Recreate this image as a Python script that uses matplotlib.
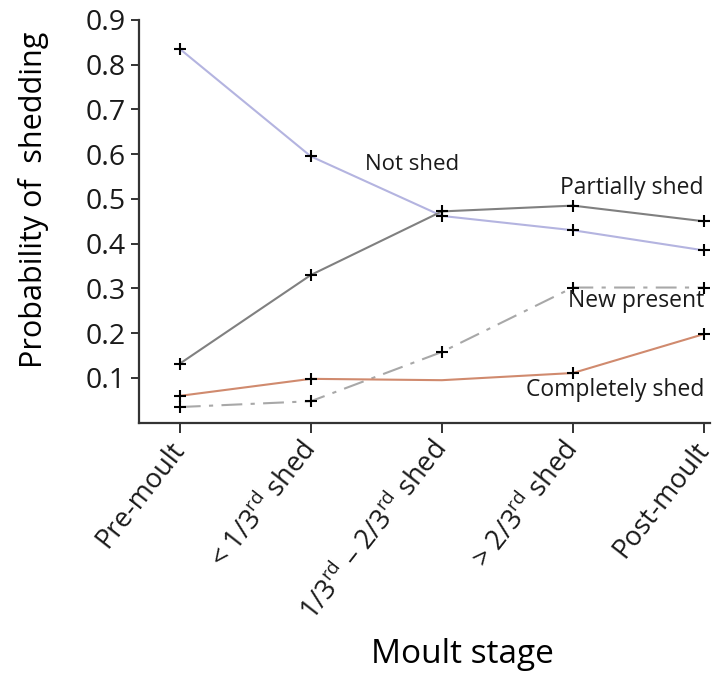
import matplotlib
matplotlib.use("Agg")
import matplotlib.pyplot as plt

plt.rcParams['font.family'] = ['Open Sans', 'DejaVu Sans']
plt.rcParams['mathtext.fontset'] = 'custom'
plt.rcParams['mathtext.rm'] = 'Open Sans'
plt.rcParams['text.color'] = '#1a1a1a'

stages = ['Pre-moult',
          r'< 1/3$^{\mathrm{rd}}$ shed',
          r'1/3$^{\mathrm{rd}}$ – 2/3$^{\mathrm{rd}}$ shed',
          r'> 2/3$^{\mathrm{rd}}$ shed',
          'Post-moult']
not_shed = [0.835, 0.595, 0.462, 0.43, 0.385]
partially_shed = [0.132, 0.33, 0.472, 0.485, 0.45]
new_present = [0.035, 0.048, 0.158, 0.302, 0.302]
completely_shed = [0.06, 0.098, 0.095, 0.111, 0.198]

x = list(range(len(stages)))

fig = plt.figure(figsize=(7.14, 6.84), dpi=100)
ax = fig.add_axes([0.195, 0.382, 0.80, 0.589])

mk = dict(marker='+', ms=9, mew=1.5, mec='black')
ax.plot(x, not_shed, color='#b4b4e0', lw=1.5, **mk)
ax.plot(x, partially_shed, color='#808080', lw=1.5, **mk)
ax.plot(x, new_present, color='#a8a8a8', lw=1.5, ls=(0, (10, 4, 2, 4)), **mk)
ax.plot(x, completely_shed, color='#d08a6e', lw=1.5, markevery=[0, 1, 3, 4], **mk)

# series names sit next to the lines
ax.text(1.775, 0.577, 'Not shed', fontsize=16, ha='center', va='center')
ax.text(4.0, 0.525, 'Partially shed', fontsize=16.5, ha='right', va='center')
ax.text(4.0, 0.271, 'New present', fontsize=16.5, ha='right', va='center')
ax.text(4.0, 0.074, 'Completely shed', fontsize=16.5, ha='right', va='center')

ax.set_xlim(-0.31, 4.05)
ax.set_ylim(0, 0.9)
ax.set_yticks([0.1, 0.2, 0.3, 0.4, 0.5, 0.6, 0.7, 0.8, 0.9])
ax.set_yticklabels(['0.1', '0.2', '0.3', '0.4', '0.5', '0.6', '0.7', '0.8', '0.9'])
ax.set_xticks(x)
ax.set_xticklabels(stages, rotation=52, ha='right', va='center', rotation_mode='anchor')

ax.spines['top'].set_visible(False)
ax.spines['right'].set_visible(False)
for s in ['left', 'bottom']:
    ax.spines[s].set_color('#333333')
    ax.spines[s].set_linewidth(1.6)
ax.tick_params(axis='y', labelsize=20.5, length=6, width=1.4, color='#333333', pad=4,
               labelcolor='#1a1a1a')
ax.tick_params(axis='x', labelsize=19.5, length=7, width=1.4, color='#333333', pad=9,
               labelcolor='#1a1a1a')

ax.set_ylabel('Probability of  shedding', fontsize=22)
ax.yaxis.set_label_coords(-0.158, 0.553)
ax.set_xlabel('Moult stage', fontsize=24)
ax.xaxis.set_label_coords(0.566, -0.535)

fig.savefig('out.png', dpi=100)
